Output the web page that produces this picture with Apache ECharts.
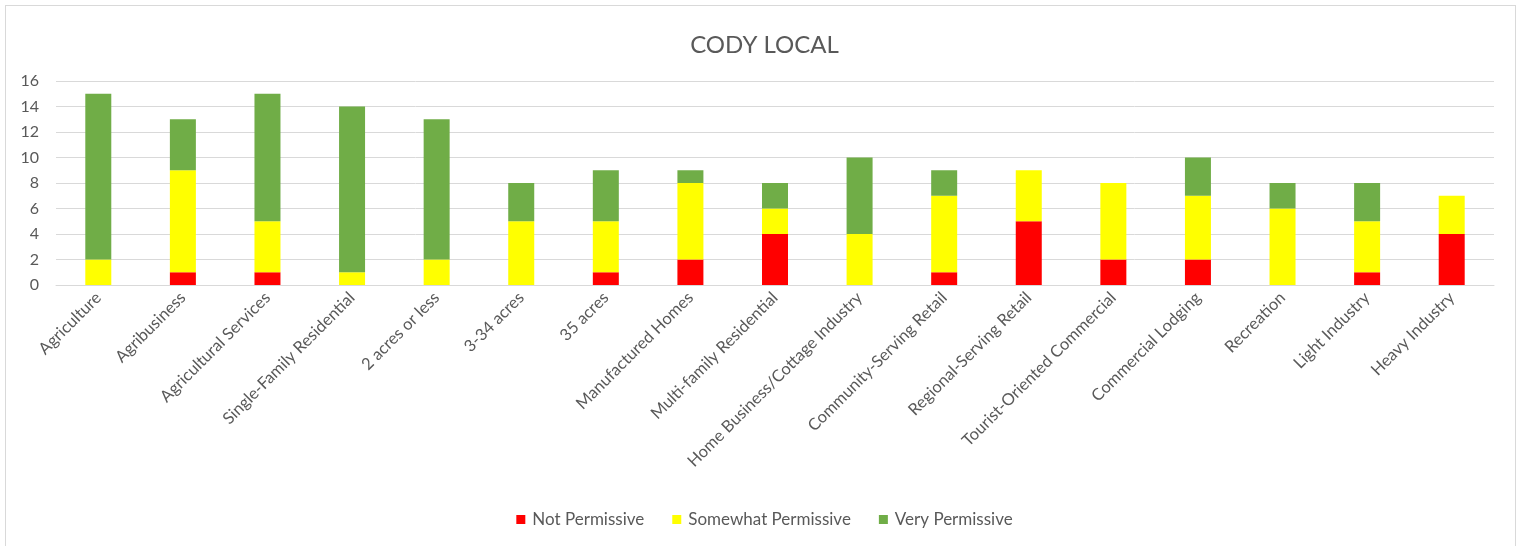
<!DOCTYPE html>
<html>
<head>
<meta charset="utf-8">
<script src="https://cdn.jsdelivr.net/npm/echarts@6/dist/echarts.min.js"></script>
<style>
html,body{margin:0;padding:0;background:#fff;}
#frame{position:absolute;left:5px;top:5px;width:1511px;height:560px;border:1px solid #d9d9d9;box-sizing:border-box;}
#chart{position:absolute;left:0;top:0;width:1529px;height:546px;}
</style>
</head>
<body>
<div id="frame"></div>
<div id="chart"></div>
<script>
const categories = ["Agriculture","Agribusiness","Agricultural Services","Single-Family Residential","2 acres or less","3-34 acres","35 acres","Manufactured Homes","Multi-family Residential","Home Business/Cottage Industry","Community-Serving Retail","Regional-Serving Retail","Tourist-Oriented Commercial","Commercial Lodging","Recreation","Light Industry","Heavy Industry"];
const notPermissive      = [0,1,1,0,0,0,1,2,4,0,1,5,2,2,0,1,4];
const somewhatPermissive = [2,8,4,1,2,5,4,6,2,4,6,4,6,5,6,4,3];
const veryPermissive     = [13,4,10,13,11,3,4,1,2,6,2,0,0,3,2,3,0];
const yTicks = [0,2,4,6,8,10,12,14,16];

const font = "Lato, 'Open Sans', sans-serif";
const chart = echarts.init(document.getElementById('chart'));
function s(name, data, color){
  return {name, type:'bar', stack:'total', data, barWidth:26,
    itemStyle:{color}, emphasis:{disabled:true}};
}
chart.setOption({
  animation:false,
  title:{text:'CODY LOCAL', left:'center', top:28,
    textStyle:{color:'#595959', fontSize:24, fontWeight:'normal', fontFamily:font}},
  legend:{top:506, left:'center', itemWidth:9, itemHeight:9, itemGap:28, icon:'rect',
    textStyle:{color:'#595959', fontSize:17, fontFamily:font, padding:[0,0,0,2]},
    data:['Not Permissive','Somewhat Permissive','Very Permissive']},
  grid:{left:56, right:35, top:81, bottom:261, containLabel:false},
  xAxis:{type:'category', data:categories,
    axisLine:{lineStyle:{color:'#d9d9d9', width:1}}, axisTick:{show:false},
    axisLabel:{rotate:45, interval:0, color:'#595959', fontSize:16.5, fontFamily:font, margin:10}},
  yAxis:{type:'value', min:yTicks[0], max:yTicks[yTicks.length-1], interval:2,
    axisLine:{show:false}, axisTick:{show:false},
    splitLine:{lineStyle:{color:'#d9d9d9', width:1}},
    axisLabel:{color:'#595959', fontSize:16, fontFamily:font, margin:17}},
  series:[
    s('Not Permissive', notPermissive, '#ff0000'),
    s('Somewhat Permissive', somewhatPermissive, '#ffff00'),
    s('Very Permissive', veryPermissive, '#70ad47')
  ]
});
</script>
</body>
</html>
